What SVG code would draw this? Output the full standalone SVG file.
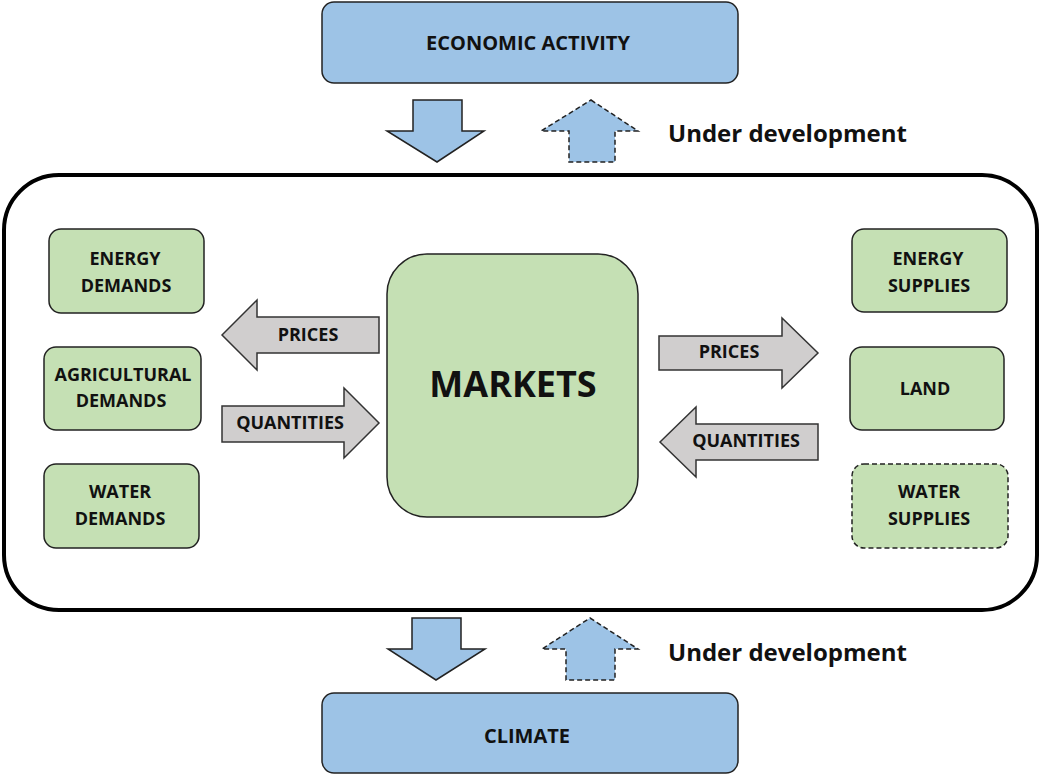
<svg xmlns="http://www.w3.org/2000/svg" width="1043" height="775" viewBox="0 0 1043 775">
<style>
.blue{fill:#9DC3E6;stroke:#222;stroke-width:1.5}
.green{fill:#C5E0B4;stroke:#222;stroke-width:1.5}
.gray{fill:#D0CECE;stroke:#333;stroke-width:1.5}
.dash{stroke-dasharray:5,3}
.t{font-family:"Open Sans","Liberation Sans",sans-serif;font-weight:bold;fill:#111;text-anchor:middle}
.s{font-size:18px}
.u{font-family:"Open Sans","Liberation Sans",sans-serif;font-weight:bold;fill:#111;font-size:24px}
</style>
<rect x="4" y="175" width="1033" height="435" rx="55" fill="#fff" stroke="#000" stroke-width="4"/>
<g id="economic">
<rect class="blue" x="322" y="2" width="416" height="81" rx="12"/>
<text class="t" x="528" y="50" font-size="20">ECONOMIC ACTIVITY</text>
</g>
<g id="climate">
<rect class="blue" x="322" y="693" width="416" height="80" rx="12"/>
<text class="t" x="527" y="743" font-size="20">CLIMATE</text>
</g>
<g id="markets">
<rect class="green" x="387" y="254" width="251" height="263" rx="40"/>
<text class="t" x="513" y="397" font-size="36">MARKETS</text>
</g>
<g id="energy-demands">
<rect class="green" x="49" y="229" width="155" height="84" rx="12"/>
<text class="t s" x="125" y="265">ENERGY</text>
<text class="t s" x="126" y="292">DEMANDS</text>
</g>
<g id="agri-demands">
<rect class="green" x="44" y="347" width="157" height="83" rx="12"/>
<text class="t s" x="123" y="381">AGRICULTURAL</text>
<text class="t s" x="121" y="407">DEMANDS</text>
</g>
<g id="water-demands">
<rect class="green" x="44" y="464" width="155" height="84" rx="12"/>
<text class="t s" x="120" y="498">WATER</text>
<text class="t s" x="120" y="525">DEMANDS</text>
</g>
<g id="energy-supplies">
<rect class="green" x="852" y="229" width="155" height="83" rx="12"/>
<text class="t s" x="928" y="265">ENERGY</text>
<text class="t s" x="929" y="292">SUPPLIES</text>
</g>
<g id="land">
<rect class="green" x="850" y="347" width="154" height="83" rx="12"/>
<text class="t s" x="925" y="395">LAND</text>
</g>
<g id="water-supplies">
<rect class="green dash" x="852" y="464" width="156" height="84" rx="12"/>
<text class="t s" x="929" y="498">WATER</text>
<text class="t s" x="929" y="525">SUPPLIES</text>
</g>
<g id="connectors">
<polygon class="blue" points="413,100 462,100 462,131 484,131 437,162 387,131 413,131"/>
<polygon class="blue dash" points="591,100 638,131 615,131 615,162 569,162 569,131 541,131"/>
<polygon class="blue" points="412,618 461,618 461,649 485,649 436,680 388,649 412,649"/>
<polygon class="blue dash" points="590,618 638,649 615,649 615,680 566,680 566,649 542,649"/>
<polygon class="gray" points="222,335 257,300 257,317 379,317 379,353 257,353 257,370"/>
<polygon class="gray" points="222,406 344,406 344,388 379,423 344,458 344,442 222,442"/>
<polygon class="gray" points="659,336 782,336 782,318 818,353 782,388 782,370 659,370"/>
<polygon class="gray" points="660,442 696,407 696,424 818,424 818,460 696,460 696,477"/>
<text class="t s" x="308" y="341">PRICES</text>
<text class="t s" x="290" y="429">QUANTITIES</text>
<text class="t s" x="729" y="358">PRICES</text>
<text class="t s" x="746" y="447">QUANTITIES</text>
<text class="u" x="668" y="142">Under development</text>
<text class="u" x="668" y="661">Under development</text>
</g>
</svg>
